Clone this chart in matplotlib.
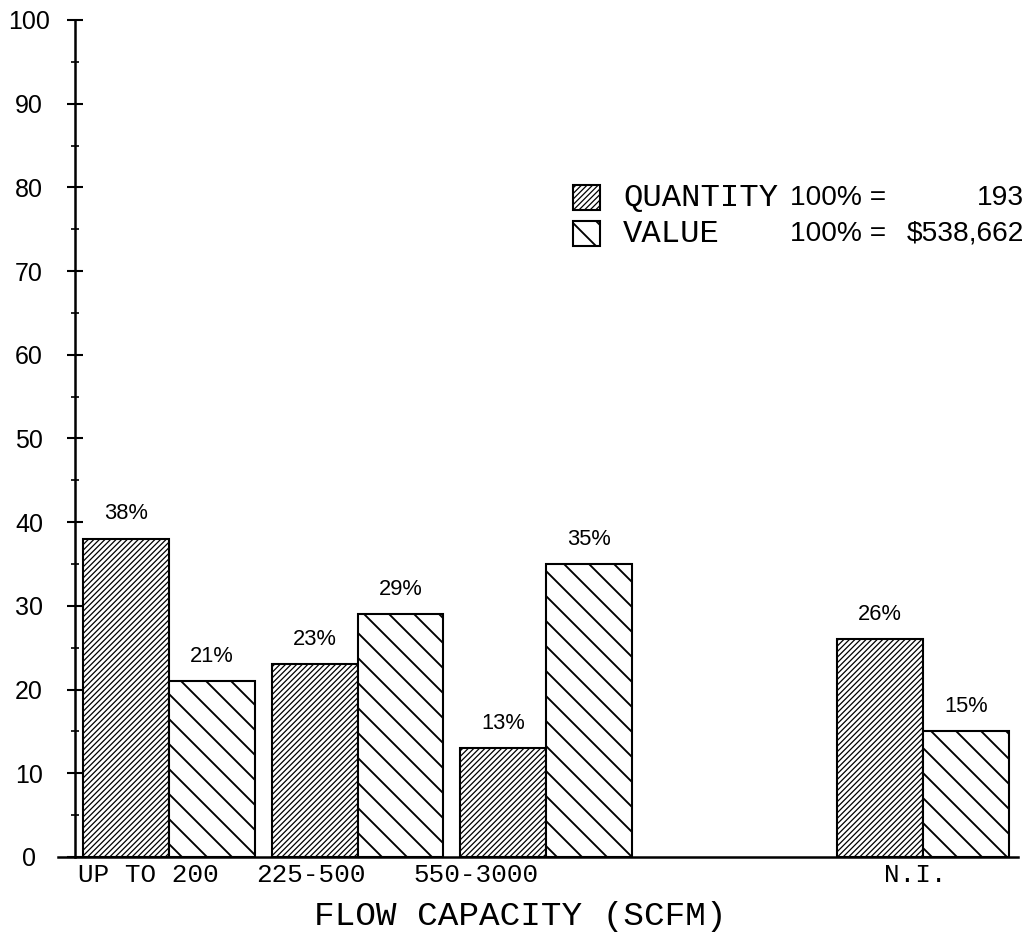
import matplotlib
matplotlib.use("Agg")
import matplotlib.pyplot as plt
from matplotlib.patches import Rectangle
from matplotlib.ticker import MultipleLocator

# data
categories = ["UP TO 200", "225-500", "550-3000", "N.I."]
quantity_pct = [38, 23, 13, 26]
value_pct = [21, 29, 35, 15]
quantity_total = "193"
value_total = "$538,662"

# layout: group slots (N.I. leaves one slot empty), label shifts
slots = [0, 1, 2, 4]
label_shift = [-0.11, -0.25, -0.37, -0.04]
bar_w = 0.456

DPI = 150
W, H = 1029, 940
dense_hatch = "/" * 9
wide_hatch = "\\" * 2
thin_lw = 0.6
thick_lw = 0.9

mono = "Liberation Mono"
sans = "Liberation Sans"


def hatch_lw(patches, lw):
    for p in patches:
        if hasattr(p, "set_hatch_linewidth"):
            p.set_hatch_linewidth(lw)


fig = plt.figure(figsize=(W / DPI, H / DPI), dpi=DPI)
ax = fig.add_axes([58 / W, 83 / H, 960 / W, 837 / H])

plt.rcParams["hatch.linewidth"] = thin_lw
q_bars = ax.bar([s - bar_w / 2 for s in slots], quantity_pct, width=bar_w,
                facecolor="white", edgecolor="black", linewidth=1.0, hatch=dense_hatch)
hatch_lw(q_bars, thin_lw)
plt.rcParams["hatch.linewidth"] = thick_lw
v_bars = ax.bar([s + bar_w / 2 for s in slots], value_pct, width=bar_w,
                facecolor="white", edgecolor="black", linewidth=1.0, hatch=wide_hatch)
hatch_lw(v_bars, thick_lw)

for s, q, v in zip(slots, quantity_pct, value_pct):
    ax.annotate(f"{q}%", (s - bar_w / 2, q), xytext=(0, 12), textcoords="offset points",
                ha="center", va="center", fontsize=10.5, family=sans)
    ax.annotate(f"{v}%", (s + bar_w / 2, v), xytext=(0, 12), textcoords="offset points",
                ha="center", va="center", fontsize=10.5, family=sans)

ax.set_xlim(-0.589, 4.504)
ax.set_ylim(0, 100)

for side in ["top", "right"]:
    ax.spines[side].set_visible(False)
ax.spines["left"].set_position(("data", -0.5))
ax.spines["left"].set_linewidth(1.2)
ax.spines["bottom"].set_linewidth(1.2)

ax.yaxis.set_major_locator(MultipleLocator(10))
ax.yaxis.set_minor_locator(MultipleLocator(5))
ax.tick_params(axis="y", which="major", direction="inout", length=8, width=1.0,
               pad=18, labelsize=12)
ax.tick_params(axis="y", which="minor", direction="inout", length=4, width=0.8)
for lbl in ax.get_yticklabels():
    lbl.set_family(sans)
    lbl.set_ha("center")

ax.set_xticks([s + d for s, d in zip(slots, label_shift)])
ax.set_xticklabels(categories, family=mono, fontsize=12.5)
ax.tick_params(axis="x", length=0, pad=3)

ax.set_xlabel("FLOW CAPACITY (SCFM)", family=mono, fontsize=16.5)
ax.xaxis.set_label_coords(0.481, -0.071)
ax.xaxis.label.set_va("center")


# legend drawn by hand to mix the two fonts
def fx(px):
    return px / W


def fy(py):
    return 1 - py / H


plt.rcParams["hatch.linewidth"] = thin_lw
leg_q = Rectangle((fx(573), fy(210)), 27 / W, 25 / H, transform=fig.transFigure,
                  facecolor="white", edgecolor="black", linewidth=1.0, hatch=dense_hatch)
hatch_lw([leg_q], thin_lw)
fig.add_artist(leg_q)
plt.rcParams["hatch.linewidth"] = thick_lw
leg_v = Rectangle((fx(573), fy(246)), 27 / W, 25 / H, transform=fig.transFigure,
                  facecolor="white", edgecolor="black", linewidth=1.0, hatch=wide_hatch)
hatch_lw([leg_v], thick_lw)
fig.add_artist(leg_v)

fig.text(fx(623), fy(198), "QUANTITY", family=mono, fontsize=15.5, va="center")
fig.text(fx(623), fy(234), "VALUE", family=mono, fontsize=15.5, va="center")
fig.text(fx(790), fy(198), "100% =", family=sans, fontsize=13.5, va="center")
fig.text(fx(790), fy(234), "100% =", family=sans, fontsize=13.5, va="center")
fig.text(fx(1024), fy(198), quantity_total, family=sans, fontsize=13.5, va="center", ha="right")
fig.text(fx(1024), fy(234), value_total, family=sans, fontsize=13.5, va="center", ha="right")

fig.savefig("out.png", dpi=DPI, facecolor="white")
